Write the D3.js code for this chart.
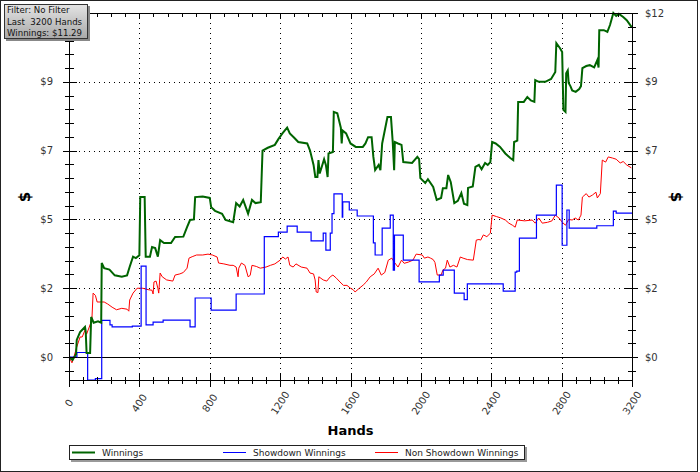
<!DOCTYPE html>
<html lang="en">
<head>
<meta charset="UTF-8">
<title>Winnings</title>
<script src="https://cdn.jsdelivr.net/npm/d3@7"></script>
<style>
    body { margin: 0; background: #fff; }
    text { font-family: "DejaVu Sans", Verdana, sans-serif; }
</style>
</head>
<body>
<script>
    // hands played -> dollars
    var winnings = [
        [0, 0], [20, -0.1], [40, 0.1], [44, 0.6], [63, 0.87], [91, 1.05], [95, 0.9], [100, 0.14], [120, 0.14],
        [126, 1.4], [140, 1.2], [165, 1.25], [183, 1.2], [186, 3.28], [200, 3.1], [230, 3.05], [260, 2.85],
        [300, 2.8], [330, 2.85], [345, 3.15], [364, 3.5], [380, 3.45], [400, 3.55], [405, 5.58], [430, 5.58],
        [436, 3.5], [460, 3.5], [472, 3.84], [490, 3.8], [505, 3.5], [518, 4.08], [540, 3.98], [580, 3.98],
        [603, 4.19], [650, 4.2], [671, 4.53], [688, 4.78], [710, 4.8], [717, 5.58], [760, 5.6], [800, 5.55],
        [808, 5.23], [830, 5.1], [870, 5.0], [890, 4.78], [933, 4.7], [950, 5.37], [970, 5.25], [990, 5.48],
        [1018, 5.0], [1040, 5.48], [1060, 5.37], [1090, 5.4], [1100, 7.2], [1130, 7.3], [1170, 7.4], [1190, 7.6],
        [1213, 7.8], [1240, 8.0], [1255, 7.8], [1280, 7.65], [1303, 7.5], [1354, 7.45], [1370, 7.2], [1390, 6.7],
        [1400, 6.28], [1412, 6.28], [1418, 6.87], [1425, 6.4], [1450, 6.9], [1460, 6.7], [1470, 6.28], [1475, 7.1],
        [1500, 7.15], [1505, 8.55], [1525, 8.5], [1545, 8.0], [1550, 7.45], [1555, 7.9], [1575, 7.8], [1600, 7.45],
        [1630, 7.33], [1670, 7.33], [1685, 7.45], [1700, 7.67], [1720, 7.67], [1730, 6.98], [1740, 6.52],
        [1760, 6.7], [1770, 6.52], [1780, 7.45], [1810, 8.37], [1830, 8.37], [1840, 7.5], [1848, 6.52],
        [1852, 7.5], [1870, 7.45], [1890, 7.4], [1900, 6.8], [1950, 6.77], [1980, 6.98], [1990, 6.9], [1997, 6.24],
        [2025, 6.07], [2040, 6.2], [2070, 5.93], [2090, 5.48], [2115, 5.55], [2125, 5.89], [2145, 5.89],
        [2155, 6.35], [2170, 6.1], [2190, 5.37], [2210, 5.45], [2230, 5.72], [2245, 5.35], [2264, 5.3], [2268, 5.9],
        [2295, 5.95], [2310, 6.63], [2330, 6.7], [2345, 6.55], [2365, 6.77], [2380, 6.7], [2395, 6.8], [2405, 7.5],
        [2425, 7.45], [2450, 7.33], [2480, 7.1], [2508, 6.94], [2525, 6.87], [2530, 7.5], [2548, 7.55], [2553, 8.9],
        [2585, 8.9], [2605, 9.07], [2625, 8.95], [2645, 8.9], [2650, 9.66], [2670, 9.6], [2707, 9.6], [2740, 9.7],
        [2764, 9.94], [2770, 10.95], [2790, 10.78], [2803, 10.64], [2810, 8.62], [2822, 8.55], [2826, 9.9],
        [2835, 10.0], [2840, 9.56], [2850, 9.45], [2860, 9.3], [2880, 9.25], [2900, 9.35], [2910, 9.45],
        [2918, 10.08], [2940, 10.15], [2960, 10.18], [2985, 10.1], [3003, 10.36], [3010, 10.1], [3014, 11.4],
        [3040, 11.4], [3060, 11.34], [3075, 11.58], [3094, 12.0], [3110, 11.9], [3125, 11.97], [3150, 11.86],
        [3170, 11.75], [3190, 11.58], [3200, 11.5]
    ]
    // showdown winnings change in steps
    var showdown = [
        [0, 0], [45, 0.16], [106, -0.8], [150, -0.75], [186, 1.28], [233, 1.12], [245, 1.05], [360, 1.08],
        [410, 3.17], [438, 1.12], [478, 1.22], [535, 1.29], [688, 1.05], [717, 2.06], [808, 1.64], [950, 2.2],
        [1110, 4.2], [1190, 4.36], [1240, 4.57], [1297, 4.36], [1376, 4.05], [1445, 4.32], [1460, 3.73],
        [1485, 4.32], [1495, 5.0], [1506, 5.69], [1553, 4.88], [1556, 5.41], [1593, 5.13], [1638, 4.92],
        [1730, 3.98], [1740, 3.56], [1780, 4.5], [1826, 4.95], [1843, 3.03], [1850, 4.25], [1900, 3.38],
        [1990, 2.62], [2105, 2.86], [2127, 3.03], [2190, 2.23], [2246, 2.0], [2264, 2.55], [2468, 2.3],
        [2536, 2.96], [2545, 3.0], [2560, 4.15], [2657, 4.95], [2770, 6.0], [2803, 3.9], [2830, 5.13],
        [2843, 4.5], [3000, 4.58], [3094, 5.09], [3110, 5.02], [3200, 5.02]
    ]
    var nonShowdown = [
        [0, 0], [17, -0.2], [30, 0.05], [44, 0.35], [63, 0.7], [75, 0.7], [91, 0.94], [100, 0.8], [130, 1.29],
        [137, 2.23], [150, 2.15], [160, 1.92], [200, 1.92], [220, 1.85], [245, 1.74], [270, 1.65], [300, 1.7],
        [330, 1.67], [340, 1.6], [345, 1.99], [364, 2.23], [387, 2.4], [420, 2.4], [450, 2.35], [472, 2.33],
        [478, 2.2], [483, 2.62], [495, 2.65], [505, 2.4], [510, 2.23], [518, 2.93], [530, 2.8], [555, 2.69],
        [590, 2.65], [603, 2.86], [630, 2.9], [650, 2.95], [671, 3.1], [682, 3.45], [700, 3.5], [725, 3.56],
        [760, 3.56], [790, 3.59], [815, 3.56], [842, 3.49], [850, 3.28], [880, 3.25], [915, 3.2], [933, 3.2],
        [950, 3.14], [961, 2.8], [965, 3.1], [980, 3.28], [1000, 3.2], [1018, 2.8], [1030, 2.85], [1040, 3.2],
        [1065, 3.16], [1087, 3.1], [1120, 3.14], [1145, 3.2], [1170, 3.25], [1200, 3.38], [1215, 3.49],
        [1230, 3.42], [1245, 3.49], [1255, 3.2], [1274, 3.14], [1290, 3.25], [1320, 3.14], [1353, 3.1],
        [1370, 2.93], [1390, 2.9], [1399, 2.69], [1405, 2.27], [1415, 2.25], [1420, 2.8], [1445, 2.69],
        [1465, 2.65], [1485, 2.8], [1500, 2.86], [1520, 2.75], [1540, 2.62], [1560, 2.5], [1580, 2.5],
        [1600, 2.4], [1615, 2.35], [1626, 2.27], [1650, 2.4], [1672, 2.51], [1690, 2.62], [1712, 2.8],
        [1735, 2.9], [1757, 3.1], [1775, 2.86], [1795, 2.95], [1815, 3.38], [1835, 3.45], [1850, 3.3],
        [1870, 3.14], [1890, 3.38], [1905, 3.27], [1928, 3.31], [1955, 3.38], [1973, 3.59], [2008, 3.56],
        [2020, 3.45], [2040, 3.49], [2055, 3.45], [2070, 3.4], [2080, 3.3], [2093, 2.86], [2115, 2.86],
        [2125, 3.03], [2140, 3.1], [2150, 3.38], [2165, 3.14], [2185, 3.2], [2205, 3.14], [2224, 3.49],
        [2240, 3.45], [2265, 3.4], [2298, 3.38], [2315, 4.08], [2330, 4.1], [2340, 4.08], [2355, 4.26],
        [2375, 4.2], [2395, 4.32], [2405, 4.95], [2430, 4.9], [2455, 4.85], [2480, 4.78], [2500, 4.67],
        [2520, 4.6], [2536, 4.53], [2548, 4.78], [2590, 4.75], [2633, 4.78], [2650, 4.67], [2670, 4.85],
        [2690, 4.67], [2720, 4.7], [2745, 4.75], [2764, 4.95], [2785, 4.85], [2804, 4.7], [2822, 4.6],
        [2840, 4.8], [2860, 4.78], [2877, 4.85], [2895, 4.78], [2910, 4.95], [2918, 5.58], [2940, 5.7],
        [2955, 5.58], [2975, 5.65], [2995, 5.75], [3003, 5.55], [3020, 5.7], [3031, 6.87], [3050, 6.8],
        [3065, 6.98], [3090, 6.94], [3110, 6.9], [3133, 6.77], [3150, 6.82], [3170, 6.7], [3196, 6.6]
    ]

    var yTicks = [0, 2.4, 4.8, 7.2, 9.6, 12]
        yTickLabels = ['$0', '$2', '$5', '$7', '$9', '$12']
        xTicks = [0, 400, 800, 1200, 1600, 2000, 2400, 2800, 3200]
        infoLines = ['Filter: No Filter', 'Last\u00a0 3200 Hands', 'Winnings: $11.29']
        seriesNames = ['Winnings', 'Showdown Winnings', 'Non Showdown Winnings']
        seriesColors = ['#006400', '#0000ff', '#ff0000']

    var width = 700
        height = 472
        plot = {left: 69, right: 632, top: 13, bottom: 380}

    var svg = d3.select('body')
            .append('svg')
            .attr('width', width)
            .attr('height', height)

    var xScale = d3.scaleLinear()
            .domain([0, 3200])
            .range([plot.left, plot.right])
        yScale = d3.scaleLinear()
            .domain([-0.8, 12])
            .range([plot.bottom, plot.top])

    // outer frame
    svg.append('rect')
        .attr('x', 0.5).attr('y', 0.5)
        .attr('width', 697).attr('height', 471)
        .attr('fill', '#fff')
        .attr('stroke', '#222')

    // dotted grid
    svg.selectAll('.vgrid')
        .data(xTicks.slice(1, -1))
        .enter()
        .append('line')
        .attr('x1', d => Math.round(xScale(d)) + 0.5)
        .attr('x2', d => Math.round(xScale(d)) + 0.5)
        .attr('y1', plot.top)
        .attr('y2', plot.bottom)
        .attr('stroke', '#000')
        .attr('stroke-dasharray', '1,4')
    svg.selectAll('.hgrid')
        .data(yTicks.slice(1, -1))
        .enter()
        .append('line')
        .attr('x1', plot.left)
        .attr('x2', plot.right)
        .attr('y1', d => Math.round(yScale(d)) + 0.5)
        .attr('y2', d => Math.round(yScale(d)) + 0.5)
        .attr('stroke', '#000')
        .attr('stroke-dasharray', '1,4')
    svg.append('line')
        .attr('x1', plot.left).attr('x2', plot.right)
        .attr('y1', Math.round(yScale(0)) + 0.5).attr('y2', Math.round(yScale(0)) + 0.5)
        .attr('stroke', '#000')

    // series
    var line = d3.line()
            .x(d => xScale(d[0]))
            .y(d => yScale(d[1]))
        stepLine = d3.line()
            .x(d => xScale(d[0]))
            .y(d => yScale(d[1]))
            .curve(d3.curveStepAfter)

    svg.append('path')
        .attr('d', line(nonShowdown))
        .attr('fill', 'none')
        .attr('stroke', seriesColors[2])
        .attr('stroke-width', 1)
    svg.append('path')
        .attr('d', stepLine(showdown))
        .attr('fill', 'none')
        .attr('stroke', seriesColors[1])
        .attr('stroke-width', 1.2)
    svg.append('path')
        .attr('d', line(winnings))
        .attr('fill', 'none')
        .attr('stroke', seriesColors[0])
        .attr('stroke-width', 2)

    // axes with minor ticks
    var xMinor = d3.range(0, 3201, 80)
        yMinor = d3.range(-0.48, 12.01, 0.48)

    function xTickLines(cls, ticks, y1, y2) {
        svg.selectAll('.' + cls)
            .data(ticks)
            .enter()
            .append('line')
            .attr('x1', d => Math.round(xScale(d)) + 0.5)
            .attr('x2', d => Math.round(xScale(d)) + 0.5)
            .attr('y1', y1).attr('y2', y2)
            .attr('stroke', '#000')
    }
    function yTickLines(cls, ticks, x1, x2) {
        svg.selectAll('.' + cls)
            .data(ticks)
            .enter()
            .append('line')
            .attr('y1', d => Math.round(yScale(d)) + 0.5)
            .attr('y2', d => Math.round(yScale(d)) + 0.5)
            .attr('x1', x1).attr('x2', x2)
            .attr('stroke', '#000')
    }
    xTickLines('xminb', xMinor, plot.bottom - 3, plot.bottom + 4)
    xTickLines('xmajb', xTicks, plot.bottom - 6, plot.bottom + 7)
    xTickLines('xmint', xMinor, plot.top, plot.top + 4)
    xTickLines('xmajt', xTicks, plot.top, plot.top + 5)
    yTickLines('yminl', yMinor, plot.left - 4, plot.left + 5)
    yTickLines('ymajl', yTicks, plot.left - 6, plot.left + 8)
    yTickLines('yminr', yMinor, plot.right - 4, plot.right + 4)
    yTickLines('ymajr', yTicks, plot.right - 8, plot.right + 6)

    svg.append('line')
        .attr('x1', plot.left).attr('x2', plot.right + 1)
        .attr('y1', plot.bottom + 0.5).attr('y2', plot.bottom + 0.5)
        .attr('stroke', '#000')
    svg.append('line')
        .attr('x1', plot.left).attr('x2', plot.right + 1)
        .attr('y1', plot.top + 0.5).attr('y2', plot.top + 0.5)
        .attr('stroke', '#000')
    svg.append('line')
        .attr('x1', plot.left + 0.5).attr('x2', plot.left + 0.5)
        .attr('y1', plot.top).attr('y2', plot.bottom + 7)
        .attr('stroke', '#000')
    svg.append('line')
        .attr('x1', plot.right + 0.5).attr('x2', plot.right + 0.5)
        .attr('y1', plot.top).attr('y2', plot.bottom + 7)
        .attr('stroke', '#000')

    // tick labels
    svg.selectAll('.ylabl')
        .data(yTicks)
        .enter()
        .append('text')
        .attr('x', 53)
        .attr('y', d => yScale(d))
        .attr('dy', '0.35em')
        .attr('text-anchor', 'end')
        .attr('font-size', 10)
        .attr('fill', '#333')
        .text((d, i) => yTickLabels[i])
    svg.selectAll('.ylabr')
        .data(yTicks)
        .enter()
        .append('text')
        .attr('x', 645)
        .attr('y', d => yScale(d))
        .attr('dy', '0.35em')
        .attr('font-size', 10)
        .attr('fill', '#333')
        .text((d, i) => yTickLabels[i])
    svg.selectAll('.xlab')
        .data(xTicks)
        .enter()
        .append('text')
        .attr('transform', d => `translate(${xScale(d)}, 403) rotate(-57)`)
        .attr('text-anchor', 'middle')
        .attr('dy', '0.35em')
        .attr('font-size', 10)
        .attr('fill', '#333')
        .text(d => d)

    // axis titles
    svg.append('text')
        .attr('transform', 'translate(25, 197) rotate(-90)')
        .attr('text-anchor', 'middle')
        .attr('dy', '0.35em')
        .attr('font-size', 15)
        .attr('font-weight', 'bold')
        .text('$')
    svg.append('text')
        .attr('transform', 'translate(676, 197) rotate(90)')
        .attr('text-anchor', 'middle')
        .attr('dy', '0.35em')
        .attr('font-size', 15)
        .attr('font-weight', 'bold')
        .text('$')
    svg.append('text')
        .attr('x', (plot.left + plot.right) / 2)
        .attr('y', 435)
        .attr('text-anchor', 'middle')
        .attr('font-size', 13)
        .attr('font-weight', 'bold')
        .text('Hands')

    // info box top-left
    var grad = svg.append('defs')
            .append('linearGradient')
            .attr('id', 'boxGrad')
            .attr('x1', 0).attr('y1', 0).attr('x2', 0).attr('y2', 1)
    grad.append('stop').attr('offset', '0%').attr('stop-color', '#e4e4e4')
    grad.append('stop').attr('offset', '100%').attr('stop-color', '#a8a8a8')
    svg.append('rect')
        .attr('x', 6).attr('y', 6).attr('width', 84).attr('height', 35)
        .attr('fill', '#888')
    svg.append('rect')
        .attr('x', 4.5).attr('y', 4.5).attr('width', 83).attr('height', 34)
        .attr('fill', 'url(#boxGrad)')
        .attr('stroke', '#333')
    svg.selectAll('.info')
        .data(infoLines)
        .enter()
        .append('text')
        .attr('x', 7)
        .attr('y', (d, i) => 13 + i * 11.5)
        .attr('font-size', 8.6)
        .attr('fill', '#111')
        .text(d => d)

    // legend
    var legendX = [72, 223, 375]
    svg.append('rect')
        .attr('x', 71).attr('y', 447).attr('width', 456).attr('height', 15)
        .attr('fill', '#999')
    svg.append('rect')
        .attr('x', 69.5).attr('y', 445.5).attr('width', 455).attr('height', 14)
        .attr('fill', '#fff')
        .attr('stroke', '#222')
    var legend = svg.selectAll('.legend')
            .data(seriesNames)
            .enter()
            .append('g')
            .attr('transform', (d, i) => `translate(${legendX[i]}, 452.5)`)
    legend.append('line')
        .attr('x1', 0).attr('x2', 23)
        .attr('stroke', (d, i) => seriesColors[i])
        .attr('stroke-width', (d, i) => i == 0 ? 2 : 1)
    legend.append('text')
        .attr('x', 30)
        .attr('dy', '0.35em')
        .attr('font-size', 9)
        .attr('fill', '#222')
        .text(d => d)
</script>
</body>
</html>
